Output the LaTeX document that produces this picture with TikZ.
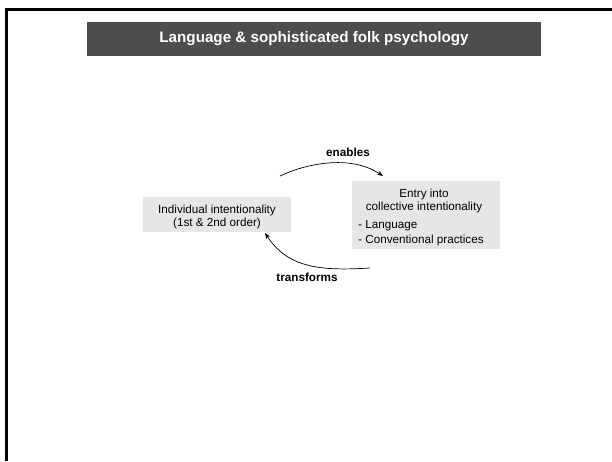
\documentclass[tikz,border=0pt]{standalone}
\usepackage{fontspec}
\setmainfont{Liberation Sans}
\usetikzlibrary{arrows.meta}
\definecolor{barGray}{HTML}{4D4D4D}
\definecolor{boxGray}{HTML}{E6E6E6}
\begin{document}
\begin{tikzpicture}[x=1pt,y=-1pt,
  panel/.style={fill=boxGray,draw=none,inner sep=0pt},
  body/.style={font=\fontsize{11.7}{14}\selectfont,inner sep=0pt},
  label/.style={font=\fontsize{11.7}{14}\selectfont\bfseries,inner sep=0pt},
  link/.style={draw=black,line width=0.7pt,-{Stealth[length=6pt,width=4.5pt]}}]
  \useasboundingbox (0,0) rectangle (612,461);
  % slide frame
  \draw[line width=3pt] (6.5,461) -- (6.5,9.5) -- (612,9.5);
  % title bar
  \node[fill=barGray,minimum width=454pt,minimum height=34pt,inner sep=0pt] (bar) at (314,39) {};
  \node[font=\fontsize{15.2}{18}\selectfont\bfseries,text=white,inner sep=0pt] (title) at (314,39) {Language \& sophisticated folk psychology};
  % left box
  \node[panel,minimum width=148pt,minimum height=35pt] (indiv) at (217,214.5) {};
  \node[body,anchor=base] (indivA) at (217,213) {Individual intentionality};
  \node[body,anchor=base] (indivB) at (217,226) {(1st \& 2nd order)};
  % right box
  \node[panel,minimum width=148pt,minimum height=68pt] (coll) at (426,215) {};
  \node[body,anchor=base] (collA) at (424,197) {Entry into};
  \node[body,anchor=base] (collB) at (424,210) {collective intentionality};
  \node[body,anchor=base west] (collC) at (358,228) {- Language};
  \node[body,anchor=base west] (collD) at (358,243) {- Conventional practices};
  % connectors
  \coordinate (enS) at (280,176);
  \coordinate (enE) at (383,176);
  \coordinate (trS) at (370,268);
  \coordinate (trE) at (265,233);
  \draw[link] (enS) .. controls (305,164) and (350,154) .. (enE);
  \draw[link] (trS) .. controls (320,271) and (288,268) .. (trE);
  \node[label] (enables) at (348,152) {enables};
  \node[label] (transforms) at (307,277) {transforms};
\end{tikzpicture}
\end{document}
